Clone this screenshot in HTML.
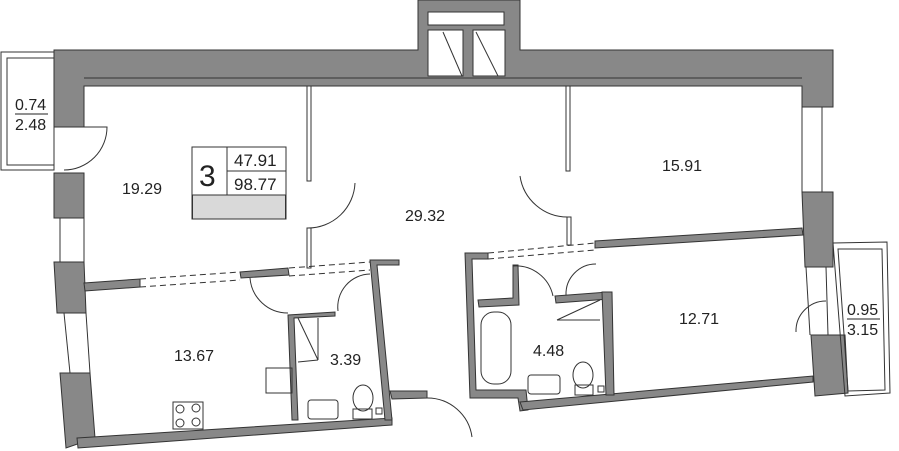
<!DOCTYPE html>
<html><head><meta charset="utf-8"><style>
html,body{margin:0;padding:0;background:#fff;width:899px;height:451px;overflow:hidden}
svg{display:block}
text{font-family:"Liberation Sans",sans-serif;fill:#222}
</style></head><body>
<svg width="899" height="451" viewBox="0 0 899 451" xmlns="http://www.w3.org/2000/svg">
<g fill="#888" stroke="#333" stroke-width="1">
<polygon points="54,50 418,50 418,0 520,0 520,50 833,50 833,107 802,107 802,86 84,86 84,127 54,127"/>
<line x1="84" y1="78" x2="802" y2="78"/>
<rect x="428" y="12" width="76" height="13" fill="#fff"/>
<rect x="428" y="30" width="35" height="46" fill="#fff"/>
<rect x="473" y="30" width="32" height="46" fill="#fff"/>
<polygon points="54,173 84,173 84,218 54,218"/>
<polygon points="54,262 84,262 86,313 57,313"/>
<polygon points="60,373 90,373 95,438 66,448"/>
<polygon points="77,438 392,418 392,425 78,448"/>
<polygon points="802,192 833,192 833,267 805,267"/>
<polygon points="811,335 845,335 848,393 815,396"/>
<polygon points="84,283 140,279 140,287 85,291"/>
<polygon points="240,272 288,268 289,275 241,278"/>
<polygon points="370,260 399,260 399,265 377,265 392,420 385,420"/>
<polygon points="288,315 335,312 335,316 294,318 298,420 292,420"/>
<polygon points="390,391 427,391 427,398 392,399"/>
<polygon points="465,253 488,253 488,259 472,259 476,390 526,390 528,410 520,411 518,398 470,398"/>
<polygon points="520,402 813,376 813,382 523,410"/>
<polygon points="595,241 802,228 803,235 595,248"/>
<polygon points="478,300 513,298 513,265 518,265 519,305 479,307"/>
<polygon points="555,296 608,292 609,299 556,303"/>
<polygon points="602,292 612,292 614,395 606,395"/>
</g>
<g fill="none" stroke="#333" stroke-width="1">
<rect x="1" y="52" width="53" height="118"/>
<rect x="7" y="58" width="47" height="107"/>
<polygon points="833,243 887,242 890,393 845,396"/>
<polygon points="838,249 882,249 885,390 848,391"/>
<line x1="60" y1="218" x2="60" y2="262"/><line x1="84" y1="218" x2="84" y2="262"/>
<line x1="64" y1="313" x2="70" y2="373"/><line x1="86" y1="313" x2="90" y2="373"/>
<line x1="802" y1="107" x2="802" y2="192"/><line x1="822" y1="107" x2="822" y2="192"/>
<line x1="806" y1="267" x2="810" y2="335"/><line x1="826" y1="267" x2="828" y2="335"/>
<path d="M64,127 L107,127 A43,43 0 0 1 64,170"/>
<path d="M355,183 A47,47 0 0 1 308,228"/>
<path d="M520,176 A48,48 0 0 0 568,217"/>
<path d="M250,278 A38,38 0 0 0 288,313"/>
<path d="M338,311 A33,33 0 0 1 370,274"/>
<path d="M427,398 A45,45 0 0 1 472,437"/>
<path d="M513,266 A38,38 0 0 1 553,296"/>
<path d="M566,295 A30,30 0 0 1 596,264"/>
<path d="M796,332 A30,30 0 0 1 826,301"/>
<line x1="443" y1="32" x2="462" y2="76"/><line x1="476" y1="32" x2="498" y2="76"/>
<rect x="307" y="86" width="4" height="95"/>
<rect x="307" y="228" width="4" height="40"/>
<rect x="566" y="86" width="4" height="85"/>
<rect x="567" y="217" width="4" height="28"/>
<g stroke-dasharray="6,4">
<line x1="140" y1="279" x2="240" y2="272"/><line x1="140" y1="287" x2="240" y2="280"/>
<line x1="289" y1="268" x2="370" y2="262"/><line x1="289" y1="276" x2="370" y2="270"/>
<line x1="488" y1="253" x2="595" y2="243"/><line x1="488" y1="259" x2="595" y2="250"/>
</g>
<line x1="298" y1="318" x2="318" y2="360"/><line x1="298" y1="362" x2="318" y2="360"/><line x1="318" y1="318" x2="318" y2="360"/>
<line x1="557" y1="320" x2="600" y2="300"/><line x1="557" y1="320" x2="600" y2="320"/>
<rect x="266" y="368" width="26" height="25"/>
<rect x="173" y="402" width="30" height="27"/>
<circle cx="180" cy="409" r="4"/><circle cx="196" cy="408" r="4"/><circle cx="180" cy="423" r="4"/><circle cx="196" cy="422" r="4"/>
<rect x="308" y="400" width="30" height="19" rx="3"/>
<ellipse cx="363" cy="398" rx="10" ry="13"/><rect x="353" y="409" width="19" height="10"/>
<rect x="376" y="408" width="6" height="6"/>
<rect x="481" y="312" width="30" height="72" rx="13"/>
<rect x="528" y="375" width="32" height="19" rx="3"/>
<ellipse cx="583" cy="375" rx="10" ry="13"/><rect x="575" y="385" width="18" height="10"/>
<rect x="598" y="386" width="6" height="6"/>
<rect x="192" y="147" width="94" height="72"/>
<line x1="227" y1="147" x2="227" y2="195"/><line x1="227" y1="171" x2="286" y2="171"/>
</g>
<rect x="192.5" y="195" width="93" height="24" fill="#d9d9d9" stroke="#333"/>
<text x="199" y="186" font-size="30">3</text>
<text x="234" y="166" font-size="17">47.91</text>
<text x="234" y="190" font-size="17">98.77</text>
<text x="122" y="194" font-size="16">19.29</text>
<text x="405" y="221" font-size="16">29.32</text>
<text x="662" y="171" font-size="16">15.91</text>
<text x="174" y="361" font-size="16">13.67</text>
<text x="330" y="365" font-size="16">3.39</text>
<text x="533" y="356" font-size="16">4.48</text>
<text x="679" y="324" font-size="16">12.71</text>
<text x="15" y="110" font-size="16">0.74</text>
<line x1="15" y1="114" x2="48" y2="114" stroke="#222"/>
<text x="15" y="130" font-size="16">2.48</text>
<text x="847" y="315" font-size="16">0.95</text>
<line x1="847" y1="319" x2="880" y2="319" stroke="#222"/>
<text x="847" y="335" font-size="16">3.15</text>
</svg>
</body></html>
